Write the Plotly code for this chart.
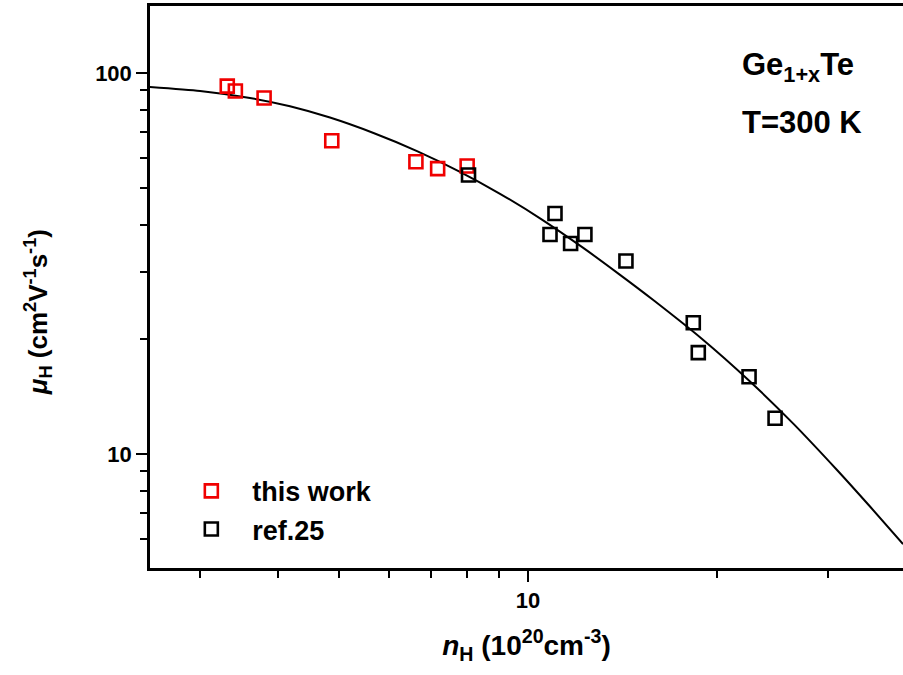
import plotly.graph_objects as go

# Hall mobility vs Hall carrier concentration, Ge1+xTe at 300 K
this_work_n = [3.32, 3.42, 3.80, 4.87, 6.63, 7.18, 8.00]
this_work_mu = [92.4, 89.7, 86.0, 66.4, 58.5, 56.1, 57.0]

ref25_n = [8.04, 11.04, 10.84, 11.69, 12.32, 14.32, 18.33, 18.67, 22.49, 24.74]
ref25_mu = [54.0, 42.8, 37.7, 35.7, 37.7, 32.1, 22.1, 18.45, 15.95, 12.41]

# calculated curve
model_n = [2.500, 3.005, 3.608, 4.178, 4.838, 5.675, 6.657, 7.751, 9.025, 10.51,
           12.23, 13.91, 15.81, 18.89, 22.57, 26.47, 31.05, 35.04, 39.55]
model_mu = [91.9, 89.7, 86.0, 81.8, 76.4, 69.6, 62.4, 55.3, 48.2, 41.3,
            34.8, 29.8, 25.4, 20.1, 15.5, 12.0, 9.08, 7.28, 5.80]

x_minor = [3, 4, 5, 6, 7, 8, 9, 20, 30]
y_minor = [5, 6, 7, 8, 9, 20, 30, 40, 50, 60, 70, 80, 90]

FONT = "Liberation Sans, Arial, sans-serif"

fig = go.Figure()

fig.add_trace(go.Scatter(
    x=model_n, y=model_mu, mode="lines",
    line=dict(color="black", width=2, shape="spline", smoothing=0.6),
    showlegend=False, hoverinfo="skip"))

fig.add_trace(go.Scatter(
    x=this_work_n, y=this_work_mu, mode="markers", name="this work",
    marker=dict(symbol="square-open", size=13, color="#f00000", line=dict(width=2.6, color="#f00000"))))

fig.add_trace(go.Scatter(
    x=ref25_n, y=ref25_mu, mode="markers", name="ref.25",
    marker=dict(symbol="square-open", size=13, color="black", line=dict(width=2.6, color="black"))))

fig.update_layout(
    width=903, height=675,
    margin=dict(l=150, r=0, t=6, b=107),
    paper_bgcolor="white", plot_bgcolor="white",
    font=dict(family=FONT, color="black"),
    legend=dict(x=0.027, y=0.18, xanchor="left", yanchor="top",
                font=dict(size=27, family=FONT, color="black", weight="bold"),
                bgcolor="rgba(0,0,0,0)", itemwidth=72, tracegroupgap=0),
    xaxis=dict(
        type="log", range=[0.3981, 1.5971],
        showline=True, linecolor="black", linewidth=2.5, mirror=True,
        showgrid=False, zeroline=False,
        tickmode="array", tickvals=[10], ticktext=["10"],
        ticks="outside", ticklen=11, tickwidth=2, tickcolor="black",
        tickfont=dict(size=22, family=FONT, weight="bold"),
        minor=dict(tickmode="array", tickvals=x_minor, ticks="outside", ticklen=7,
                   tickwidth=2, tickcolor="black", showgrid=False),
        title=dict(text="<i>n</i><sub>H</sub> (10<sup>20</sup>cm<sup>-3</sup>)",
                   font=dict(size=28, family=FONT, weight="bold"), standoff=24),
    ),
    yaxis=dict(
        type="log", range=[0.7008, 2.1759],
        showline=True, linecolor="black", linewidth=2.5, mirror=False,
        showgrid=False, zeroline=False,
        tickmode="array", tickvals=[10, 100], ticktext=["10", "100"],
        ticks="outside", ticklen=11, tickwidth=2, tickcolor="black",
        tickfont=dict(size=22, family=FONT, weight="bold"),
        minor=dict(tickmode="array", tickvals=y_minor, ticks="outside", ticklen=7,
                   tickwidth=2, tickcolor="black", showgrid=False),
    ),
    annotations=[
        # y-axis title, placed slightly below the axis midpoint
        dict(text="<i>μ</i><sub>H</sub> (cm<sup>2</sup>V<sup>-1</sup>s<sup>-1</sup>)",
             x=(38 - 150) / (903 - 150), y=0.455, xref="paper", yref="paper", textangle=-90,
             xanchor="center", yanchor="middle", showarrow=False,
             font=dict(size=26, family=FONT, weight="bold", color="black")),
        dict(text="Ge<sub>1+x</sub>Te", x=0.7835, y=0.891, xref="paper", yref="paper",
             xanchor="left", yanchor="middle", showarrow=False,
             font=dict(size=31, family=FONT, weight="bold", color="black")),
        dict(text="T=300 K", x=0.7835, y=0.7927, xref="paper", yref="paper",
             xanchor="left", yanchor="middle", showarrow=False,
             font=dict(size=31, family=FONT, weight="bold", color="black")),
    ],
)

fig.write_html("out.html")
